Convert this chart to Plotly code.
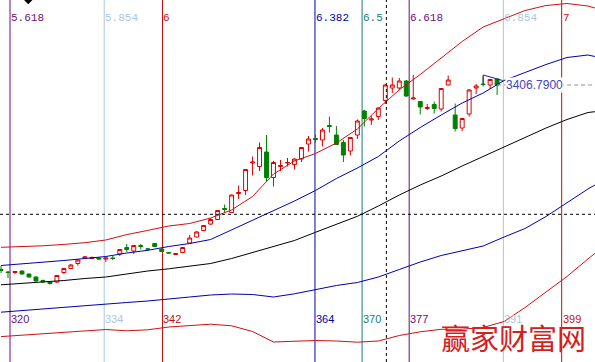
import plotly.graph_objects as go

# ---------------- data ----------------
BARS = list(range(319, 391))
OPEN = [2668.8, 2658.8, 2656.8, 2662.8, 2650.8, 2638.8, 2624.8, 2618.8, 2618.8, 2656.8,
        2672.8, 2692.8, 2714.8, 2712.8, 2714.8, 2710.8, 2714.8, 2730.8, 2756.8, 2742.8,
        2764.8, 2750.8, 2772.8, 2750.8, 2736.8, 2728.8, 2736.8, 2774.8, 2798.8, 2824.8,
        2850.8, 2868.8, 2912.8, 2896.8, 2972.8, 2984.8, 3094.8, 3080.8, 3138.8, 3036.8,
        3080.8, 3094.8, 3088.8, 3110.8, 3170.8, 3192.8, 3186.8, 3244.8, 3206.8, 3176.8,
        3142.8, 3206.8, 3302.8, 3266.8, 3280.8, 3344.8, 3394.8, 3394.8, 3422.8, 3350.8,
        3340.8, 3312.8, 3328.8, 3310.8, 3406.8, 3286.8, 3234.8, 3290.8, 3394.8, 3410.8,
        3406.8, 3430.8]
HIGH = [2682.8, 2662.8, 2662.8, 2664.8, 2652.8, 2640.8, 2628.8, 2620.8, 2646.8, 2674.8,
        2690.8, 2710.8, 2722.8, 2720.8, 2716.8, 2716.8, 2722.8, 2750.8, 2770.8, 2766.8,
        2770.8, 2752.8, 2774.8, 2752.8, 2738.8, 2734.8, 2758.8, 2806.8, 2822.8, 2846.8,
        2874.8, 2906.8, 2928.8, 2968.8, 3004.8, 3070.8, 3120.8, 3176.8, 3206.8, 3102.8,
        3106.8, 3114.8, 3112.8, 3158.8, 3202.8, 3206.8, 3234.8, 3280.8, 3242.8, 3186.8,
        3198.8, 3268.8, 3306.8, 3282.8, 3316.8, 3410.8, 3436.8, 3434.8, 3426.8, 3446.8,
        3342.8, 3330.8, 3340.8, 3394.8, 3444.8, 3332.8, 3274.8, 3390.8, 3410.8, 3440.8,
        3430.8, 3432.8]
LOW = [2654.8, 2634.8, 2650.8, 2648.8, 2636.8, 2620.8, 2616.8, 2608.8, 2614.8, 2650.8,
       2670.8, 2684.8, 2710.8, 2710.8, 2708.8, 2698.8, 2706.8, 2722.8, 2738.8, 2730.8,
       2748.8, 2742.8, 2758.8, 2740.8, 2732.8, 2728.8, 2734.8, 2772.8, 2796.8, 2822.8,
       2846.8, 2866.8, 2896.8, 2894.8, 2950.8, 2966.8, 3044.8, 3062.8, 3022.8, 3000.8,
       3062.8, 3080.8, 3068.8, 3098.8, 3140.8, 3176.8, 3160.8, 3216.8, 3166.8, 3098.8,
       3124.8, 3190.8, 3240.8, 3246.8, 3266.8, 3330.8, 3374.8, 3386.8, 3358.8, 3348.8,
       3288.8, 3306.8, 3292.8, 3300.8, 3404.8, 3220.8, 3222.8, 3280.8, 3370.8, 3400.8,
       3390.8, 3366.8]
CLOSE = [2664.8, 2656.8, 2660.8, 2650.8, 2638.8, 2622.8, 2618.8, 2612.8, 2644.8, 2672.8,
         2686.8, 2706.8, 2718.8, 2716.8, 2710.8, 2714.8, 2712.8, 2748.8, 2748.8, 2764.8,
         2760.8, 2750.8, 2760.8, 2740.8, 2734.8, 2732.8, 2756.8, 2794.8, 2818.8, 2844.8,
         2868.8, 2904.8, 2908.8, 2966.8, 2976.8, 3068.8, 3098.8, 3156.8, 3036.8, 3096.8,
         3084.8, 3096.8, 3110.8, 3156.8, 3190.8, 3188.8, 3226.8, 3240.8, 3168.8, 3126.8,
         3196.8, 3262.8, 3272.8, 3270.8, 3314.8, 3406.8, 3406.8, 3422.8, 3362.8, 3354.8,
         3318.8, 3316.8, 3312.8, 3392.8, 3426.8, 3232.8, 3272.8, 3386.8, 3402.8, 3408.8,
         3428.8, 3406.79]

BAND_X = list(range(319, 404, 3)) + [404]
UPPER_RED = [2757.6, 2760.4, 2763.6, 2769.2, 2776.0, 2786.8, 2808.4, 2825.2, 2842.8, 2852.8,
             2874.8, 2906.8, 2960.8, 3050.8, 3102.8, 3132.8, 3174.8, 3230.8, 3312.8, 3387.6,
             3448.8, 3514.8, 3580.8, 3638.8, 3672.8, 3704.8, 3724.8, 3732.8, 3722.8, 3714.8]
UPPER_BLUE = [2684.8, 2690.8, 2696.8, 2704.8, 2712.8, 2720.8, 2734.8, 2745.6, 2760.8, 2772.8,
              2788.8, 2826.8, 2864.8, 2904.8, 2942.8, 2984.8, 3032.8, 3074.8, 3120.8, 3182.8,
              3236.8, 3286.8, 3334.8, 3374.8, 3424.8, 3456.8, 3488.8, 3516.8, 3526.8, 3520.8]
MIDDLE = [2607.6, 2612.8, 2618.8, 2624.8, 2632.8, 2638.8, 2650.8, 2662.8, 2671.6, 2680.8,
          2692.8, 2712.8, 2736.8, 2760.8, 2784.8, 2817.6, 2848.8, 2881.6, 2922.8, 2966.8,
          3006.8, 3042.8, 3082.8, 3120.8, 3161.6, 3199.6, 3234.8, 3268.8, 3296.8, 3300.0]
LOWER_BLUE = [2498.0, 2504.8, 2510.8, 2518.8, 2524.8, 2530.8, 2536.8, 2542.8, 2549.6, 2558.8,
              2566.8, 2570.8, 2568.8, 2558.8, 2571.6, 2589.6, 2604.8, 2616.8, 2638.8, 2668.8,
              2698.8, 2724.8, 2742.8, 2762.8, 2798.8, 2832.8, 2880.8, 2936.8, 2990.8, 3006.8]
LOWER_RED = [2400.4, 2406.0, 2410.8, 2417.6, 2424.8, 2428.8, 2423.6, 2427.6, 2438.8, 2445.6,
             2450.0, 2443.6, 2420.8, 2378.8, 2380.4, 2384.8, 2382.8, 2378.0, 2382.8, 2404.8,
             2419.6, 2429.6, 2430.0, 2436.8, 2460.8, 2516.8, 2578.8, 2640.8, 2710.8, 2733.6]

FIB_RATIOS = [5.618, 5.854, 6, 6.382, 6.5, 6.618, 6.854, 7]
FIB_TOP_LABELS = ["5.618", "5.854", "6", "6.382", "6.5", "6.618", "6.854", "7"]
FIB_BAR_LABELS = ["320", "334", "342", "364", "370", "377", "391", "399"]
FIB_COLORS = ["#6a0f7a", "#a8c8e4", "#c01010", "#0000a0", "#1a7a7a", "#6a0f7a", "#a8c8e4", "#c01010"]
FIB_START = -0.67
FIB_STEP = 57.13

LAST_PRICE = 3406.79
CROSS_X = 374.15
CROSS_Y = 2889.6
TOP_MARK = (322.9, 3750.8)
FLAG_X = [388, 388, 390.8]
FLAG_Y = [3412.0, 3446.8, 3424.8]

X_RANGE = [318.855, 404.01]
Y_RANGE = [2298.8, 3746.8]

# ---------------- figure ----------------
fig = go.Figure()

for vals, col in [(UPPER_RED, "#d01010"), (UPPER_BLUE, "#0000b0"), (MIDDLE, "#000000"),
                  (LOWER_BLUE, "#0000b0"), (LOWER_RED, "#d01010")]:
    fig.add_trace(go.Scatter(x=BAND_X, y=vals, mode="lines",
                             line=dict(color=col, width=1), hoverinfo="skip", showlegend=False))

fig.add_trace(go.Candlestick(
    x=BARS, open=OPEN, high=HIGH, low=LOW, close=CLOSE,
    increasing=dict(line=dict(color="#e00000", width=1), fillcolor="rgba(255,255,255,0)"),
    decreasing=dict(line=dict(color="#008000", width=1), fillcolor="#008000"),
    whiskerwidth=0, showlegend=False))

fig.add_trace(go.Scatter(x=FLAG_X, y=FLAG_Y, mode="lines",
                         line=dict(color="#202080", width=1), hoverinfo="skip", showlegend=False))
fig.add_trace(go.Scatter(x=[TOP_MARK[0]], y=[TOP_MARK[1]], mode="markers",
                         marker=dict(symbol="diamond", size=8, color="black"),
                         hoverinfo="skip", showlegend=False))

shapes = []
annotations = []
for r, top, bot, col in zip(FIB_RATIOS, FIB_TOP_LABELS, FIB_BAR_LABELS, FIB_COLORS):
    xpos = FIB_START + r * FIB_STEP
    shapes.append(dict(type="line", xref="x", yref="paper", x0=xpos, x1=xpos, y0=0, y1=1,
                       line=dict(color=col, width=1), layer="below"))
    annotations.append(dict(x=xpos, y=1 - 17.5 / 362, xref="x", yref="paper", text=top,
                            showarrow=False, xanchor="left", yanchor="middle", xshift=-1,
                            font=dict(family="Liberation Mono", size=11, color=col)))
    annotations.append(dict(x=xpos, y=1 - 319 / 362, xref="x", yref="paper", text=bot,
                            showarrow=False, xanchor="left", yanchor="middle", xshift=-1,
                            font=dict(family="Liberation Sans", size=11, color=col)))

# crosshair
shapes.append(dict(type="line", xref="paper", yref="y", x0=0, x1=1, y0=CROSS_Y, y1=CROSS_Y,
                   line=dict(color="black", width=1, dash="3px,3px")))
shapes.append(dict(type="line", xref="x", yref="paper", x0=CROSS_X, x1=CROSS_X, y0=0, y1=1,
                   line=dict(color="black", width=1, dash="3px,3px")))
# last price line
shapes.append(dict(type="line", xref="x", yref="y", x0=BARS[-1], x1=X_RANGE[1],
                   y0=LAST_PRICE, y1=LAST_PRICE,
                   line=dict(color="#909090", width=1, dash="4px,3px")))

annotations.append(dict(x=BARS[-1] + 1.1, y=LAST_PRICE, xref="x", yref="y",
                        text=f"{LAST_PRICE:.4f}", showarrow=False, xanchor="left",
                        yanchor="middle", bgcolor="white", borderpad=0,
                        font=dict(family="Liberation Sans", size=12, color="#4444c4")))

annotations.append(dict(x=1 - 82 / 595, y=1 - 337 / 362, xref="paper", yref="paper",
                        text="赢家财富网", showarrow=False, xanchor="center", yanchor="middle",
                        font=dict(family="Noto Sans CJK SC", size=29, color="#d42020")))

fig.update_layout(
    width=595, height=362,
    margin=dict(l=0, r=0, t=0, b=0),
    paper_bgcolor="white", plot_bgcolor="white",
    showlegend=False,
    shapes=shapes, annotations=annotations,
    xaxis=dict(range=X_RANGE, visible=False, rangeslider=dict(visible=False), fixedrange=True),
    yaxis=dict(range=Y_RANGE, visible=False, fixedrange=True),
    boxgap=0.2,
)

fig.write_html("out.html", config=dict(displayModeBar=False),
               post_script="document.body.style.margin='0px';document.body.style.overflow='hidden';")
